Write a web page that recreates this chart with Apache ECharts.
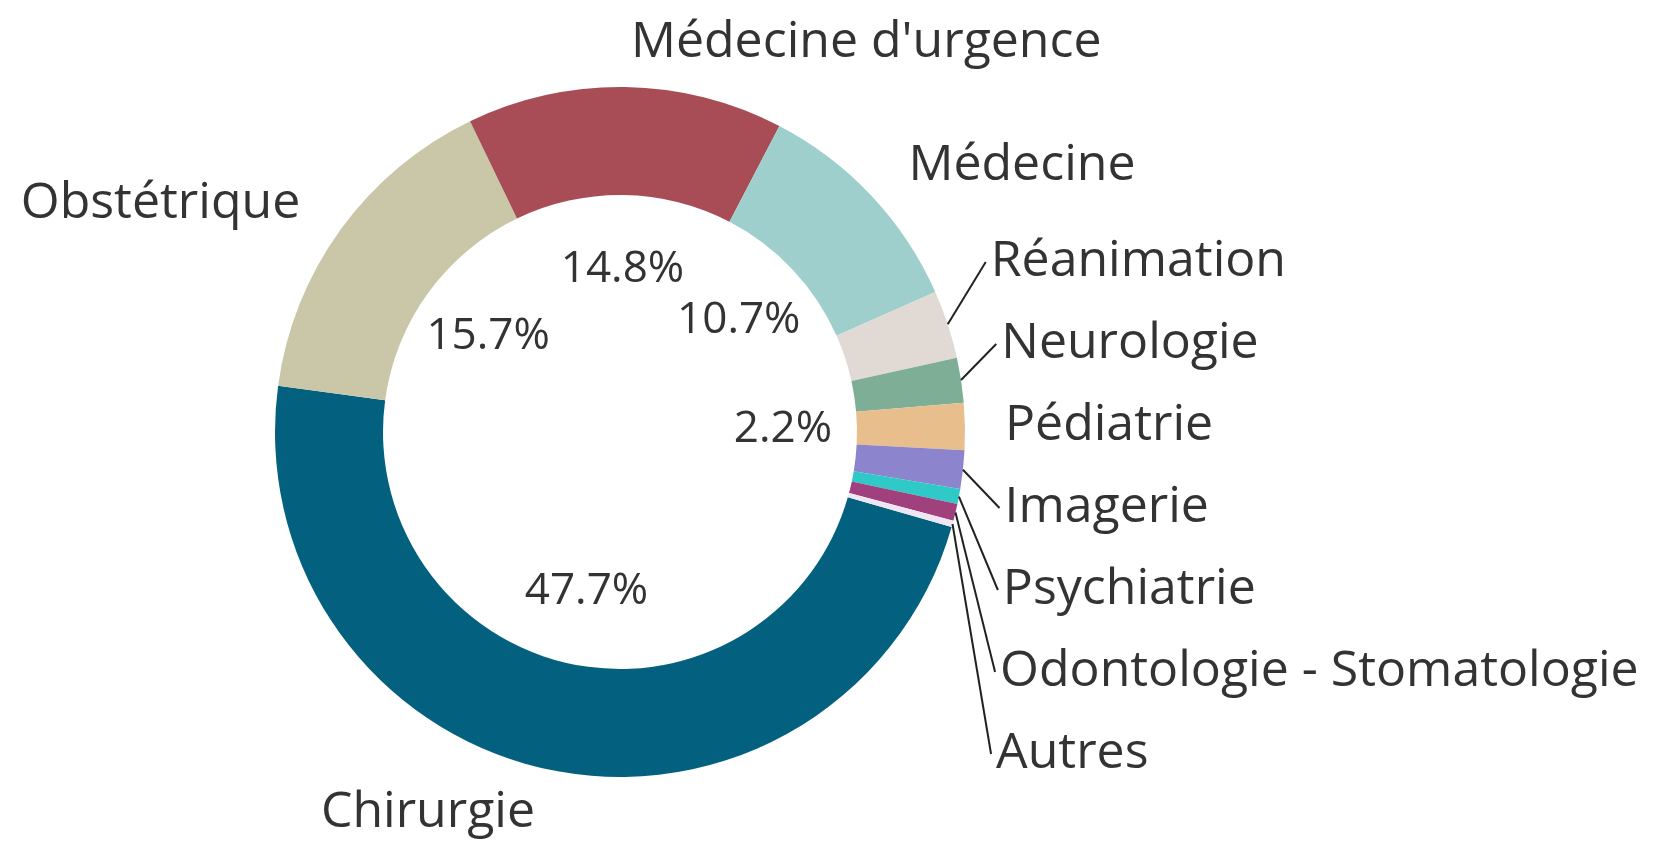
<!DOCTYPE html>
<html>
<head>
<meta charset="utf-8">
<script src="https://cdn.jsdelivr.net/npm/echarts@6/dist/echarts.min.js"></script>
<style>
  html, body { margin: 0; padding: 0; background: #fff; }
  #chart { width: 1667px; height: 843px; }
</style>
</head>
<body>
<div id="chart"></div>
<script>
// slices in clockwise order, starting with Chirurgie
const names = [
  "Chirurgie", "Obstétrique", "Médecine d'urgence", "Médecine", "Réanimation",
  "Neurologie", "Pédiatrie", "Imagerie", "Psychiatrie",
  "Odontologie - Stomatologie", "Autres"
];
const values = [47.7, 15.7, 14.8, 10.7, 3.2, 2.1, 2.2, 1.8, 0.7, 0.8, 0.3];
const colors = [
  "#03617f", "#c9c7a7", "#a84c56", "#9ecfcd", "#e1d9d4",
  "#7fae97", "#e8bf8c", "#8c84cc", "#2fc9c8", "#a0417e", "#efe6f4"
];
// big slices: name placed straight outside, no line
const bigOnes = ["Chirurgie", "Obstétrique", "Médecine d'urgence", "Médecine"];
// small slices drawn with a leader line
const withLine = ["Réanimation", "Neurologie", "Imagerie", "Psychiatrie", "Odontologie - Stomatologie", "Autres"];
// slices that get a percentage in the hole
const withPercent = ["Chirurgie", "Obstétrique", "Médecine d'urgence", "Médecine", "Pédiatrie"];

const font = "'Open Sans', 'Noto Sans', sans-serif";
const CENTER = [620, 432];
const START = -16;

const chart = echarts.init(document.getElementById("chart"));

const nameLabel = {
  position: "outside",
  formatter: "{b}",
  color: "#333",
  fontFamily: font,
  fontSize: 50,
  lineHeight: 80
};

const ringData = names.map(function (n, i) {
  return {
    name: n,
    value: values[i],
    itemStyle: { color: colors[i] },
    label: { show: bigOnes.indexOf(n) >= 0 }
  };
});

const smallData = names.map(function (n, i) {
  return {
    name: n,
    value: values[i],
    label: { show: bigOnes.indexOf(n) < 0 },
    labelLine: { show: withLine.indexOf(n) >= 0 }
  };
});

const holeData = names.map(function (n, i) {
  return {
    name: n,
    value: values[i],
    label: { show: withPercent.indexOf(n) >= 0 }
  };
});

chart.setOption({
  animation: false,
  series: [
    {
      // the coloured ring, names of the big slices
      type: "pie",
      center: CENTER,
      radius: [237, 345],
      bottom: -40,
      startAngle: START,
      clockwise: true,
      silent: true,
      itemStyle: { borderWidth: 0 },
      label: nameLabel,
      labelLine: { show: false, length: 44, length2: 0 },
      labelLayout: { hideOverlap: false },
      data: ringData
    },
    {
      // transparent copy, names of the small slices stacked on the right
      type: "pie",
      center: CENTER,
      radius: [237, 345],
      bottom: 48,
      startAngle: START,
      clockwise: true,
      silent: true,
      z: 3,
      itemStyle: { color: "rgba(0,0,0,0)" },
      label: nameLabel,
      labelLine: {
        length: 40,
        length2: 0,
        lineStyle: { color: "#222", width: 2 }
      },
      labelLayout: { hideOverlap: false },
      data: smallData
    },
    {
      // transparent copy, percentages in the hole
      type: "pie",
      center: CENTER,
      radius: [0, 320],
      startAngle: START,
      clockwise: true,
      silent: true,
      z: 3,
      itemStyle: { color: "rgba(0,0,0,0)" },
      label: {
        position: "inside",
        color: "#333",
        fontFamily: font,
        fontSize: 44,
        formatter: function (p) { return p.value.toFixed(1) + "%"; }
      },
      labelLine: { show: false },
      data: holeData
    }
  ]
});
</script>
</body>
</html>
